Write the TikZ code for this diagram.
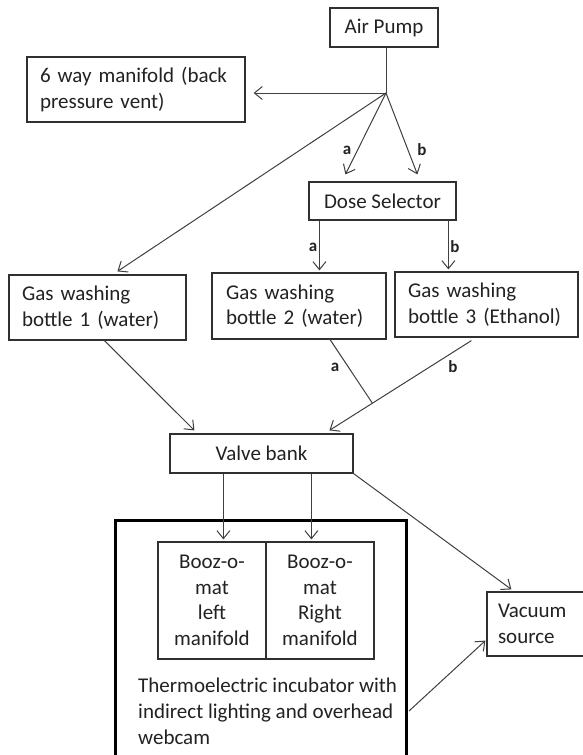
\documentclass[tikz,border=0pt]{standalone}
\usepackage{fontspec}
\setmainfont{Carlito}
\usetikzlibrary{arrows.meta,calc}
\definecolor{linec}{HTML}{404040}
\definecolor{boxc}{HTML}{303030}
\definecolor{txtc}{HTML}{222222}
\tikzset{
  box/.style={draw=boxc, line width=1.2pt, inner ysep=0pt, inner xsep=0pt, text=txtc,
    font=\fontsize{21}{25.5}\selectfont},
  lbox/.style={box, align=left},
  cbox/.style={box, align=center},
  arr/.style={draw=linec, line width=1pt, -{Straight Barb[length=8pt,width=13pt,line width=1pt]}},
  ln/.style={draw=linec, line width=1pt},
  lab/.style={text=txtc, font=\bfseries\fontsize{17}{20}\selectfont, inner sep=0pt},
  incbox/.style={draw=black, line width=3pt, inner sep=0pt}
}
\begin{document}
\begin{tikzpicture}[x=1pt,y=-1pt]
\useasboundingbox (0,0) rectangle (583,755);
\clip (0,0) rectangle (583,755);
\fill[white] (0,0) rectangle (583,755);

% boxes
\node[cbox, minimum width=108, minimum height=39] (airpump) at (384,27.5) {Air Pump};
\node[lbox, minimum height=65, text width=192, inner xsep=13] (sixway) at (136,89.5)
  {6 way manifold (back\\pressure vent)};
\node[cbox, minimum width=147, minimum height=38] (dose) at (382.5,201) {Dose Selector};
\node[lbox, minimum height=65, text width=151, inner xsep=13] (bottle1) at (97.5,307.5)
  {Gas washing\\bottle 1 (water)};
\node[lbox, minimum height=66, text width=146, inner xsep=14] (bottle2) at (299,306)
  {Gas washing\\bottle 2 (water)};
\node[lbox, minimum height=65, text width=157, inner xsep=13] (bottle3) at (486.5,304.5)
  {Gas washing\\bottle 3 (Ethanol)};
\node[cbox, minimum width=183, minimum height=39] (valve) at (261.5,453.5) {Valve bank};
\node[incbox, minimum width=291, minimum height=260] (incubator) at (260.5,650) {};
\node[cbox, minimum height=117, text width=108] (boozl) at (212,600.5)
  {Booz-o-\\mat\\left\\manifold};
\node[cbox, minimum height=117, text width=108] (boozr) at (320,600.5)
  {Booz-o-\\mat\\Right\\manifold};
\node[text=txtc, font=\fontsize{21}{26}\selectfont, align=left, inner sep=0pt, anchor=west]
  (inctext) at (138,711)
  {Thermoelectric incubator with\\indirect lighting and overhead\\webcam};
\node[lbox, minimum height=64, text width=86, inner xsep=11] (vacuum) at (541,624)
  {Vacuum\\source};

% junction below the air pump
\coordinate (J) at (386,93);
\draw[ln] (airpump.south -| J) -- (J);
\draw[arr] (J) -- ([xshift=8pt]sixway.east |- J);
\draw[arr] (J) -- ($(dose.north west)+(37,-7)$);
\draw[arr] (J) -- ($(dose.north west)+(109,-7)$);
\draw[arr] (J) -- ($(bottle1.north west)+(109,-3)$);
\node[lab] (la1) at (347,150) {a};
\node[lab] (lb1) at (422,150) {b};

% dose selector to bottles
\coordinate (da) at ($(dose.south west)+(11,0)$);
\coordinate (db) at ($(dose.south west)+(140,0)$);
\draw[arr, shorten >=2pt] (da) -- (da |- bottle2.north);
\draw[arr, shorten >=2pt] (db) -- (db |- bottle3.north);
\node[lab] (la2) at (313,247) {a};
\node[lab] (lb2) at (455,247) {b};

% bottles to valve bank
\draw[arr] ($(bottle1.south west)+(96,0)$) -- ($(valve.north west)+(25,-3)$);
\coordinate (bs) at ($(bottle3.south west)+(77,3)$);
\coordinate (be) at ($(valve.north west)+(160,-3)$);
\draw[arr] (bs) -- (be);
\draw[ln] ($(bottle2.south west)+(118,-1)$) -- ($(bs)!0.697!(be)$);
\node[lab] (la3) at (335,367) {a};
\node[lab] (lb3) at (453,367) {b};

% valve bank to manifolds and vacuum
\coordinate (va) at ($(valve.south west)+(54,0)$);
\coordinate (vb) at ($(valve.south west)+(142,0)$);
\draw[arr, shorten >=2pt] (va) -- (va |- boozl.north);
\draw[arr, shorten >=2pt] (vb) -- (vb |- boozr.north);
\draw[arr] (valve.south east) -- ($(vacuum.north west)+(25,-2)$);

% incubator to vacuum
\draw[arr] ([xshift=1.5pt]incubator.east |- inctext) -- ($(vacuum.south west)+(-1,-16)$);
\end{tikzpicture}
\end{document}
